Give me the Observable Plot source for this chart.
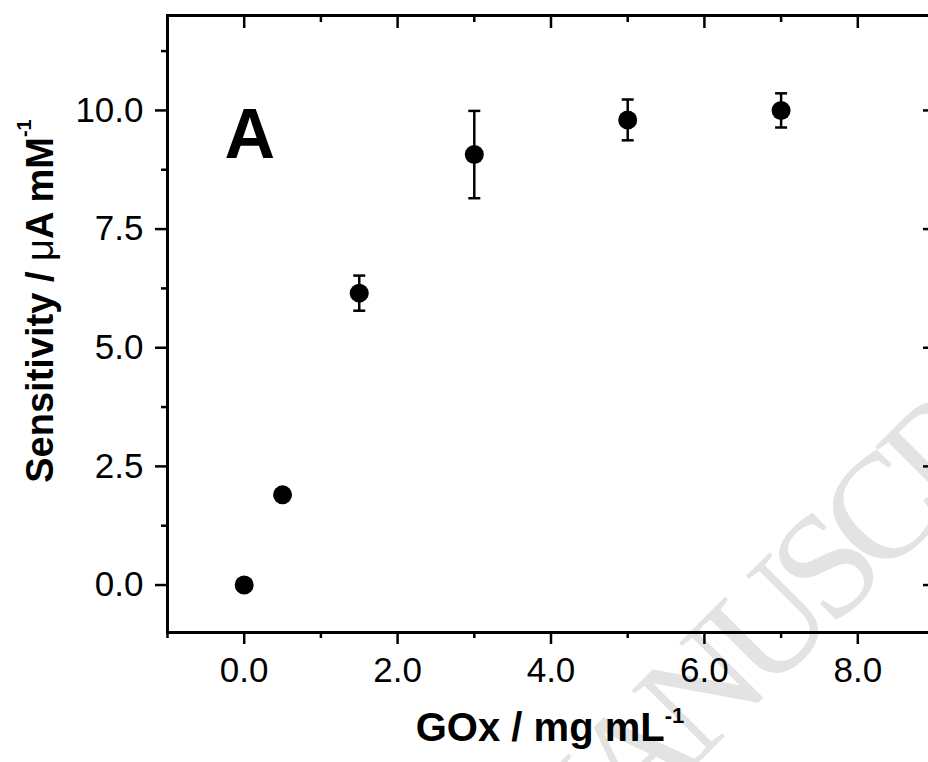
<!DOCTYPE html>
<html><head><meta charset="utf-8">
<script src="https://cdn.jsdelivr.net/npm/d3@7"></script>
<script src="https://cdn.jsdelivr.net/npm/@observablehq/plot@0.6"></script>
<style>
html,body{margin:0;padding:0;background:#fff;overflow:hidden}
svg{display:block}
</style>
</head><body><div id="chart"></div>
<script>
// GOx concentration (mg mL^-1)
const gox = [0, 0.5, 1.5, 3.0, 5.0, 7.0];
// Sensitivity (µA mM^-1)
const sensitivity = [0, 1.9, 6.15, 9.07, 9.8, 10.0];
// error bar half-widths
const errors = [0, 0, 0.37, 0.92, 0.43, 0.36];

const xMajorTicks = [0, 2, 4, 6, 8];
const xMinorTicks = [-1, 1, 3, 5, 7, 9];
const yMajorTicks = [0, 2.5, 5, 7.5, 10];
const yMinorTicks = [1.25, 3.75, 6.25, 8.75, 11.25];

const panelLabel = "A";
const xTitle = "GOx / mg mL";
const yTitleMain = "Sensitivity / ";
const yTitleMu = "\u03BC";
const yTitleRest = "A mM";
const unitSup = "-1";
const watermark = "ACCEPTED MANUSCRIPT";

const data = gox.map((x, i) => ({x, y: sensitivity[i], err: errors[i]}));
const withErr = data.filter(d => d.err > 0);

const fmt = d => d.toFixed(1);
const blank = () => "";
const cap = {draw(ctx) { ctx.moveTo(-6, 0); ctx.lineTo(6, 0); }};
const TW = 2.5;

const plot = Plot.plot({
  width: 928,
  height: 762,
  marginLeft: 167,
  marginTop: 15,
  marginRight: -6,
  marginBottom: 130,
  style: {fontFamily: "'Liberation Sans', Arial, sans-serif", fontSize: "35px", color: "black", background: "white", overflow: "hidden"},
  x: {domain: [-1, 9]},
  y: {domain: [-1, 12]},
  marks: [
    // watermark (behind everything)
    Plot.text([watermark], {frameAnchor: "bottom-left", dx: -106, dy: 767, text: d => d, rotate: -45, textAnchor: "start", lineAnchor: "bottom", fontSize: 150, fontFamily: "'Liberation Serif', 'Times New Roman', serif", fill: "#e3e3e3", ariaLabel: "watermark"}),
    // bottom axis (outward)
    Plot.axisX(xMajorTicks, {anchor: "bottom", tickSize: 12, tickPadding: 13, tickFormat: fmt, strokeWidth: TW, fontSize: 35, label: null}),
    Plot.axisX(xMinorTicks, {anchor: "bottom", tickSize: 6, tickFormat: blank, strokeWidth: TW, label: null}),
    // top axis (inward)
    Plot.axisX(xMajorTicks, {anchor: "top", tickSize: 12, dy: 12, tickFormat: blank, strokeWidth: TW, label: null}),
    Plot.axisX(xMinorTicks, {anchor: "top", tickSize: 6, dy: 6, tickFormat: blank, strokeWidth: TW, label: null}),
    // left axis (outward)
    Plot.axisY(yMajorTicks, {anchor: "left", tickSize: 12, tickPadding: 12, tickFormat: fmt, strokeWidth: TW, fontSize: 35, label: null}),
    Plot.axisY(yMinorTicks, {anchor: "left", tickSize: 6, tickFormat: blank, strokeWidth: TW, label: null}),
    // right axis (inward)
    Plot.axisY(yMajorTicks, {anchor: "right", tickSize: 12, dx: -12, tickFormat: blank, strokeWidth: TW, label: null}),
    Plot.axisY(yMinorTicks, {anchor: "right", tickSize: 6, dx: -6, tickFormat: blank, strokeWidth: TW, label: null}),
    Plot.frame({strokeWidth: 3, stroke: "black"}),
    // error bars
    Plot.ruleX(withErr, {x: "x", y1: d => d.y - d.err, y2: d => d.y + d.err, stroke: "black", strokeWidth: 2.5}),
    Plot.dot(withErr, {x: "x", y: d => d.y + d.err, symbol: cap, fill: "none", stroke: "black", strokeWidth: 2.5}),
    Plot.dot(withErr, {x: "x", y: d => d.y - d.err, symbol: cap, fill: "none", stroke: "black", strokeWidth: 2.5}),
    // points
    Plot.dot(data, {x: "x", y: "y", r: 9.5, fill: "black", stroke: "none"}),
    // panel label
    Plot.text([panelLabel], {frameAnchor: "top-left", dx: 57, dy: 142, text: d => d, textAnchor: "start", lineAnchor: "bottom", fontSize: 70, fontWeight: "bold", fill: "black"})
  ]
});

document.getElementById("chart").appendChild(plot);

const svg = d3.select(plot);
// tighten watermark letter spacing
svg.selectAll("text").filter(function() { return this.textContent === watermark; })
  .attr("letter-spacing", -14);

// x axis title
const xt = svg.append("text")
  .attr("x", 550).attr("y", 741)
  .attr("text-anchor", "middle")
  .attr("font-family", "'Liberation Sans', Arial, sans-serif")
  .attr("font-weight", "bold").attr("font-size", 40).attr("fill", "black");
xt.append("tspan").text(xTitle);
xt.append("tspan").attr("dy", -18).attr("font-size", 22).text(unitSup);

// y axis title
const yt = svg.append("text")
  .attr("transform", "translate(53,301) rotate(-90)")
  .attr("text-anchor", "middle")
  .attr("font-family", "'Liberation Sans', Arial, sans-serif")
  .attr("font-weight", "bold").attr("font-size", 38).attr("fill", "black");
yt.append("tspan").text(yTitleMain);
yt.append("tspan").attr("font-weight", "normal").text(yTitleMu);
yt.append("tspan").text(yTitleRest);
yt.append("tspan").attr("dy", -22).attr("font-size", 20).text(unitSup);
</script>
</body></html>
